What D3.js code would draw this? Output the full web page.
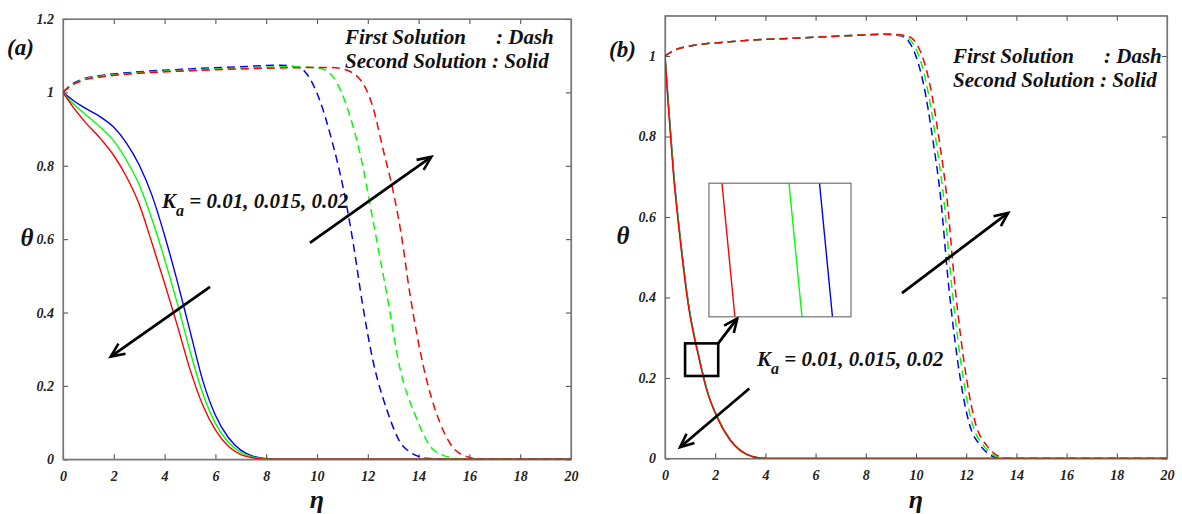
<!DOCTYPE html>
<html>
<head>
<meta charset="utf-8">
<script src="https://cdn.jsdelivr.net/npm/d3@7"></script>
<style>
  body { margin: 0; background: #fff; }
  svg { display: block; }
</style>
</head>
<body>
<svg id="chart" width="1182" height="514"></svg>
<script>
// ---- parameters and styling keys ----
const kaValues = [0.01, 0.015, 0.02];
const kaColors = ["#0000ff", "#00ff00", "#ff0000"];
const etaTicks = [0, 2, 4, 6, 8, 10, 12, 14, 16, 18, 20];
const thetaTicksA = [0, 0.2, 0.4, 0.6, 0.8, 1, 1.2];
const thetaTicksB = [0, 0.2, 0.4, 0.6, 0.8, 1];
const kaLabel = " = 0.01, 0.015, 0.02";

// ---- panel (a): first solution (dashed), [eta, theta] ----
const aFirst001 = [[0,1],[0.3,1.02],[0.8,1.037],[1.5,1.046],[3,1.056],[5,1.064],[7,1.07],[8.5,1.074],[9.3,1.068],[9.6,1.05],[10.1,0.98],[10.6,0.865],[11.0,0.75],[11.4,0.6],[11.8,0.42],[12.2,0.27],[12.75,0.135],[13.4,0.035],[14.3,0.003],[15,0],[20,0]];
const aFirst0015 = [[0,1],[0.3,1.018],[0.8,1.035],[1.5,1.044],[3,1.054],[5,1.061],[7,1.066],[9,1.07],[10.1,1.066],[10.6,1.045],[11.3,0.935],[11.8,0.8],[12.1,0.69],[12.45,0.56],[12.75,0.45],[13.26,0.25],[13.9,0.115],[14.6,0.025],[15.5,0.002],[16,0],[20,0]];
const aFirst002 = [[0,1],[0.3,1.017],[0.8,1.033],[1.5,1.042],[3,1.052],[5,1.059],[7,1.064],[9,1.067],[10.5,1.068],[11.0,1.064],[11.7,1.035],[12.2,0.96],[12.6,0.845],[13.0,0.73],[13.3,0.62],[13.66,0.45],[14.2,0.25],[14.84,0.1],[15.6,0.017],[16.5,0],[20,0]];

// ---- panel (a): second solution (solid) ----
const aSecond001 = [[0,1],[0.4,0.978],[0.8,0.96],[1.5,0.932],[2.0,0.905],[2.5,0.862],[3.0,0.802],[3.5,0.72],[4.0,0.61],[4.5,0.485],[5.0,0.35],[5.5,0.215],[6.0,0.12],[6.5,0.06],[7.0,0.025],[7.5,0.008],[8.0,0.002],[8.5,0],[20,0]];
const aSecond0015 = [[0,1],[0.4,0.969],[0.85,0.942],[1.5,0.903],[2.0,0.868],[2.5,0.815],[3.0,0.748],[3.5,0.655],[4.0,0.545],[4.5,0.425],[5.0,0.295],[5.5,0.18],[6.0,0.098],[6.5,0.047],[7.0,0.019],[7.5,0.006],[8.0,0.001],[8.5,0],[20,0]];
const aSecond002 = [[0,1],[0.4,0.96],[0.9,0.917],[1.5,0.872],[2.0,0.828],[2.5,0.77],[3.0,0.695],[3.5,0.59],[4.0,0.48],[4.5,0.365],[5.0,0.245],[5.5,0.148],[6.0,0.08],[6.5,0.036],[7.0,0.013],[7.5,0.004],[8.0,0],[20,0]];

// ---- panel (b): first solution (dashed) ----
const bFirst001 = [[0,1],[0.3,1.012],[0.86,1.023],[2.7,1.036],[5.4,1.045],[7.5,1.051],[8.7,1.054],[9.4,1.05],[9.9,1.015],[10.3,0.93],[10.7,0.78],[10.96,0.66],[11.3,0.43],[11.76,0.2],[12.13,0.085],[12.57,0.032],[12.9,0.011],[13.2,0.002],[13.5,0],[20,0]];
const bFirst0015 = [[0,1],[0.3,1.012],[0.86,1.023],[2.7,1.036],[5.4,1.045],[7.5,1.051],[8.8,1.054],[9.5,1.05],[10.02,1.015],[10.42,0.93],[10.82,0.78],[11.08,0.66],[11.42,0.43],[11.88,0.2],[12.25,0.085],[12.69,0.032],[13.02,0.011],[13.32,0.002],[13.6,0],[20,0]];
const bFirst002 = [[0,1],[0.3,1.012],[0.86,1.023],[2.7,1.036],[5.4,1.045],[7.5,1.051],[8.9,1.054],[9.65,1.05],[10.15,1.015],[10.55,0.93],[10.95,0.78],[11.21,0.66],[11.55,0.43],[12.01,0.2],[12.38,0.085],[12.82,0.032],[13.15,0.011],[13.45,0.002],[13.7,0],[20,0]];

// ---- panel (b): second solution (solid) ----
const bSecond001 = [[0,1],[0.146,0.875],[0.346,0.71],[0.616,0.545],[0.946,0.38],[1.346,0.255],[1.676,0.17],[2.076,0.104],[2.606,0.046],[3.266,0.01],[3.816,0.001],[4.316,0],[20,0]];
const bSecond0015 = [[0,1],[0.141,0.875],[0.341,0.71],[0.611,0.545],[0.941,0.38],[1.341,0.255],[1.671,0.17],[2.071,0.104],[2.601,0.046],[3.261,0.01],[3.811,0.001],[4.311,0],[20,0]];
const bSecond002 = [[0,1],[0.13,0.875],[0.33,0.71],[0.6,0.545],[0.93,0.38],[1.33,0.255],[1.66,0.17],[2.06,0.104],[2.59,0.046],[3.25,0.01],[3.8,0.001],[4.3,0],[20,0]];

// ---- magnified window of panel (b) (data ranges) ----
const zoomEta = [1.3268, 1.3501];
const zoomTheta = [0.2547, 0.2553];
const zoomMarkEta = [0.8, 2.12];
const zoomMarkTheta = [0.205, 0.286];
const insetEta = [1.75, 7.41];
const insetTheta = [0.352, 0.684];

// ---- arrows, [eta, theta] from -> to ----
const arrowsA = [[[5.79, 0.47], [1.88, 0.28]], [[9.72, 0.59], [14.5, 0.824]]];
const arrowsB = [[[9.44, 0.411], [13.67, 0.61]], [[3.36, 0.174], [0.6, 0.028]], [[2.12, 0.286], [2.88, 0.348]]];

const svg = d3.select("#chart");
const FONT = "'Liberation Serif', 'DejaVu Serif', serif";

function label(g, x, y, size, txt) {
  return g.append("text").attr("x", x).attr("y", y)
    .attr("font-family", FONT).attr("font-weight", "bold").attr("font-style", "italic")
    .attr("font-size", size).attr("fill", "#111").text(txt);
}

function drawArrow(g, x, y, a) {
  const x1 = x(a[0][0]), y1 = y(a[0][1]), x2 = x(a[1][0]), y2 = y(a[1][1]);
  const ang = Math.atan2(y2 - y1, x2 - x1);
  const L = 15, spread = 0.42;
  g.append("line").attr("x1", x1).attr("y1", y1).attr("x2", x2).attr("y2", y2)
    .attr("stroke", "#000").attr("stroke-width", 2.8);
  const p = d3.path();
  p.moveTo(x2 - L * Math.cos(ang - spread), y2 - L * Math.sin(ang - spread));
  p.lineTo(x2, y2);
  p.lineTo(x2 - L * Math.cos(ang + spread), y2 - L * Math.sin(ang + spread));
  g.append("path").attr("d", p.toString()).attr("fill", "none")
    .attr("stroke", "#000").attr("stroke-width", 2.6);
}

function drawPanel(cfg) {
  const { left, right, top, bottom, yMax, yTicks } = cfg;
  const x = d3.scaleLinear().domain([0, 20]).range([left, right]);
  const y = d3.scaleLinear().domain([0, yMax]).range([bottom, top]);
  const g = svg.append("g");
  const clipId = "clip-" + cfg.id;
  svg.append("clipPath").attr("id", clipId).append("rect")
    .attr("x", left).attr("y", top).attr("width", right - left).attr("height", bottom - top);

  const fmt = d => String(+d.toFixed(1));
  const styleAxis = (ax) => {
    ax.attr("font-family", null).attr("font-size", null);
    ax.selectAll("path.domain").attr("stroke", "#777").attr("stroke-width", 1.2);
    ax.selectAll(".tick line").attr("stroke", "#555").attr("stroke-width", 1.1);
    ax.selectAll("text").attr("font-family", FONT).attr("font-weight", "bold")
      .attr("font-style", "italic").attr("font-size", 14).attr("fill", "#222");
  };
  styleAxis(g.append("g").attr("transform", `translate(0,${bottom})`)
    .call(d3.axisBottom(x).tickValues(etaTicks).tickSize(-5).tickSizeOuter(0).tickPadding(12).tickFormat(fmt)));
  styleAxis(g.append("g").attr("transform", `translate(0,${top})`)
    .call(d3.axisTop(x).tickValues(etaTicks).tickSize(-5).tickSizeOuter(0).tickFormat("")));
  styleAxis(g.append("g").attr("transform", `translate(${left},0)`)
    .call(d3.axisLeft(y).tickValues(yTicks).tickSize(-5).tickSizeOuter(0).tickPadding(9).tickFormat(fmt)));
  styleAxis(g.append("g").attr("transform", `translate(${right},0)`)
    .call(d3.axisRight(y).tickValues(yTicks).tickSize(-5).tickSizeOuter(0).tickFormat("")));
  g.append("rect").attr("x", left).attr("y", top).attr("width", right - left).attr("height", bottom - top)
    .attr("fill", "none").attr("stroke", "#777").attr("stroke-width", 1.2);

  const line = d3.line().x(d => x(d[0])).y(d => y(d[1])).curve(d3.curveMonotoneX);
  const curves = g.append("g").attr("clip-path", `url(#${clipId})`);
  cfg.first.forEach((data, i) => {
    curves.append("path").attr("d", line(data)).attr("fill", "none")
      .attr("stroke", kaColors[i]).attr("stroke-width", 1.5).attr("stroke-dasharray", "8,5");
  });
  cfg.second.forEach((data, i) => {
    curves.append("path").attr("d", line(data)).attr("fill", "none")
      .attr("stroke", kaColors[i]).attr("stroke-width", 1.4);
  });

  cfg.arrows.forEach(a => drawArrow(g, x, y, a));

  // panel tag and axis titles
  label(g, cfg.tagX, cfg.tagY, 23, cfg.tag);
  label(g, cfg.thetaX, (top + bottom) / 2 + 7, 25, "θ").attr("text-anchor", "middle");
  label(g, (left + right) / 2, 508, 26, "η").attr("text-anchor", "middle");

  // line style key
  label(g, cfg.keyX, cfg.keyY, 21, "First Solution");
  label(g, cfg.keyX + 151, cfg.keyY, 21, ": Dash");
  label(g, cfg.keyX, cfg.keyY + 23.5, 21, "Second Solution : Solid");

  // parameter label
  const t = label(g, cfg.kaX, cfg.kaY, 21, null);
  t.append("tspan").text("K");
  t.append("tspan").attr("dy", 8).attr("font-size", 16).text("a");
  t.append("tspan").attr("dy", -8).text(kaLabel);

  return { x, y, g };
}

drawPanel({
  id: "a", left: 63, right: 571, top: 19, bottom: 459.3, yMax: 1.2, yTicks: thetaTicksA,
  first: [aFirst001, aFirst0015, aFirst002], second: [aSecond001, aSecond0015, aSecond002],
  arrows: arrowsA, tag: "(a)", tagX: 7, tagY: 55, thetaX: 27, keyX: 345, keyY: 44, kaX: 162, kaY: 208
});

const pb = drawPanel({
  id: "b", left: 665, right: 1167, top: 15.75, bottom: 458.5, yMax: 1.1, yTicks: thetaTicksB,
  first: [bFirst001, bFirst0015, bFirst002], second: [bSecond001, bSecond0015, bSecond002],
  arrows: arrowsB, tag: "(b)", tagX: 609, tagY: 57, thetaX: 623, keyX: 953, keyY: 63, kaX: 757, kaY: 366
});

// marker box on panel (b) around the magnified region
pb.g.append("rect")
  .attr("x", pb.x(zoomMarkEta[0])).attr("y", pb.y(zoomMarkTheta[1]))
  .attr("width", pb.x(zoomMarkEta[1]) - pb.x(zoomMarkEta[0]))
  .attr("height", pb.y(zoomMarkTheta[0]) - pb.y(zoomMarkTheta[1]))
  .attr("fill", "none").attr("stroke", "#000").attr("stroke-width", 2.6);

// magnified inset
const ix0 = pb.x(insetEta[0]), ix1 = pb.x(insetEta[1]);
const iy0 = pb.y(insetTheta[1]), iy1 = pb.y(insetTheta[0]);
const xi = d3.scaleLinear().domain(zoomEta).range([ix0, ix1]);
const yi = d3.scaleLinear().domain(zoomTheta).range([iy1, iy0]);
svg.append("clipPath").attr("id", "clip-inset").append("rect")
  .attr("x", ix0).attr("y", iy0).attr("width", ix1 - ix0).attr("height", iy1 - iy0);
const inset = pb.g.append("g");
inset.append("rect").attr("x", ix0).attr("y", iy0).attr("width", ix1 - ix0).attr("height", iy1 - iy0)
  .attr("fill", "#fff");
const lineI = d3.line().x(d => xi(d[0])).y(d => yi(d[1])).curve(d3.curveMonotoneX);
const insetLines = inset.append("g").attr("clip-path", "url(#clip-inset)");
[bSecond001, bSecond0015, bSecond002].forEach((data, i) => {
  insetLines.append("path").attr("d", lineI(data)).attr("fill", "none")
    .attr("stroke", kaColors[i]).attr("stroke-width", 1.4);
});
inset.append("rect").attr("x", ix0).attr("y", iy0).attr("width", ix1 - ix0).attr("height", iy1 - iy0)
  .attr("fill", "none").attr("stroke", "#666").attr("stroke-width", 1.1);
</script>
</body>
</html>
